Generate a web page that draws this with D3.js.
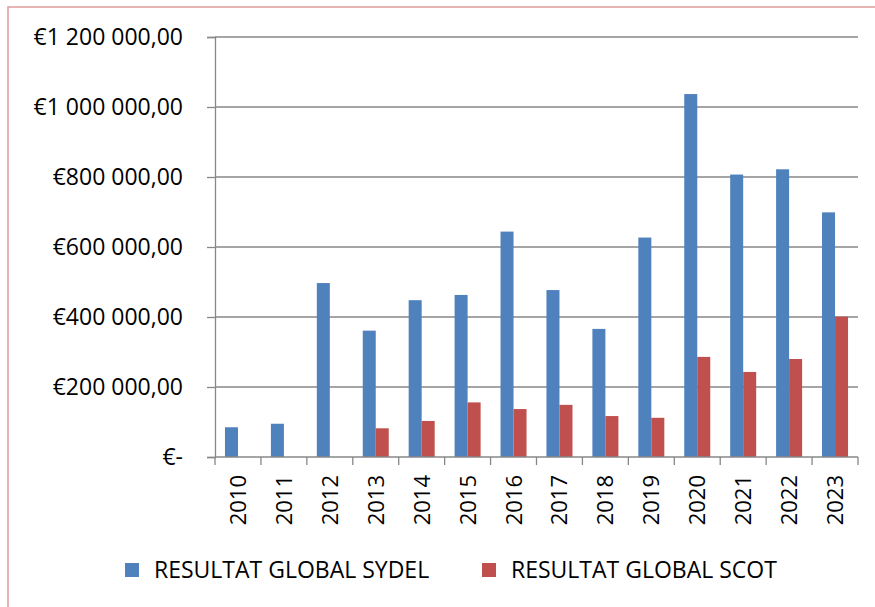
<!DOCTYPE html>
<html>
<head>
<meta charset="utf-8">
<script src="https://cdn.jsdelivr.net/npm/d3@7"></script>
<style>
  body { margin: 0; background: #fff; }
  svg { font-family: "Open Sans", sans-serif; }
</style>
</head>
<body>
<div id="chart"></div>
<script>
// Data
const years = ["2010", "2011", "2012", "2013", "2014", "2015", "2016", "2017", "2018", "2019", "2020", "2021", "2022", "2023"];
const sydel = [85000, 95000, 497000, 361000, 448000, 463000, 644000, 477000, 366000, 627000, 1037000, 807000, 822000, 699000];
const scot = [0, 0, 0, 82000, 103000, 156000, 137000, 149000, 117000, 112000, 286000, 243000, 280000, 401000];
const yTicks = [0, 200000, 400000, 600000, 800000, 1000000, 1200000];
const seriesNames = ["RESULTAT GLOBAL SYDEL", "RESULTAT GLOBAL SCOT"];
const colors = ["#4f81bd", "#c0504d"];

const W = 875, H = 607;
const margin = { top: 37, right: 17, bottom: 150, left: 215 },
    width = W - margin.left - margin.right,
    height = H - margin.top - margin.bottom;

// French style currency label
const euro = v => {
    if (v === 0) return "€-";
    const s = Math.round(v).toString().replace(/\B(?=(\d{3})+(?!\d))/g, " ");
    return "€" + s + ",00";
};

const svg = d3.select("#chart").append("svg")
    .attr("width", W)
    .attr("height", H);

// outer border
svg.append("rect")
    .attr("x", 8).attr("y", 7)
    .attr("width", W).attr("height", H)
    .attr("fill", "none")
    .attr("stroke", "#e09a9a")
    .attr("stroke-width", 1.5);

const g = svg.append("g")
    .attr("transform", `translate(${margin.left},${margin.top})`);

const x = d3.scaleBand()
    .domain(years)
    .range([0, width]);

const x1 = d3.scaleBand()
    .domain([0, 1])
    .range([x.bandwidth() / 2 - 13, x.bandwidth() / 2 + 13]);

const y = d3.scaleLinear()
    .domain([0, 1200000])
    .range([height, 0]);

// Grid lines
g.selectAll(".grid")
    .data(yTicks.slice(1))
    .enter().append("line")
    .attr("x1", 0)
    .attr("x2", width)
    .attr("y1", d => y(d))
    .attr("y2", d => y(d))
    .attr("stroke", "#878787")
    .attr("stroke-width", 1.3);

// Bars
const series = [sydel, scot];
series.forEach((vals, i) => {
    g.selectAll(".bar" + i)
        .data(vals)
        .enter().append("rect")
        .attr("x", (d, j) => x(years[j]) + x1(i))
        .attr("y", d => y(d))
        .attr("width", x1.bandwidth())
        .attr("height", d => height - y(d))
        .attr("fill", colors[i]);
});

// Y axis
const yAxis = g.append("g")
    .call(d3.axisLeft(y).tickValues(yTicks).tickFormat(euro).tickSize(8).tickPadding(24));
yAxis.select(".domain").attr("stroke", "#878787").attr("stroke-width", 1.3);
yAxis.selectAll(".tick line").attr("stroke", "#878787").attr("stroke-width", 1.3);
yAxis.selectAll("text")
    .attr("font-size", "23px")
    .attr("font-family", "Open Sans")
    .attr("fill", "#000");

// X axis
const xAxisG = g.append("g")
    .attr("transform", `translate(0,${height})`);
xAxisG.append("line")
    .attr("x1", 0).attr("x2", width)
    .attr("stroke", "#878787").attr("stroke-width", 1.3);
xAxisG.selectAll(".xtick")
    .data(d3.range(years.length + 1))
    .enter().append("line")
    .attr("x1", i => i < years.length ? x(years[i]) : width)
    .attr("x2", i => i < years.length ? x(years[i]) : width)
    .attr("y1", 0).attr("y2", 8)
    .attr("stroke", "#878787").attr("stroke-width", 1.3);
xAxisG.selectAll(".xlabel")
    .data(years)
    .enter().append("text")
    .attr("transform", d => `translate(${x(d) + x.bandwidth() / 2 + 8},18) rotate(-90)`)
    .attr("text-anchor", "end")
    .attr("font-size", "22px")
    .attr("fill", "#000")
    .text(d => d);

// Legend
const legendX = [125, 482];
const legend = svg.selectAll(".legend")
    .data(seriesNames)
    .enter().append("g")
    .attr("transform", (d, i) => `translate(${legendX[i]},563)`);
legend.append("rect")
    .attr("width", 14).attr("height", 14)
    .attr("fill", (d, i) => colors[i]);
legend.append("text")
    .attr("x", 29)
    .attr("y", 15)
    .attr("font-size", "23px")
    .attr("fill", "#000")
    .text(d => d);
</script>
</body>
</html>
